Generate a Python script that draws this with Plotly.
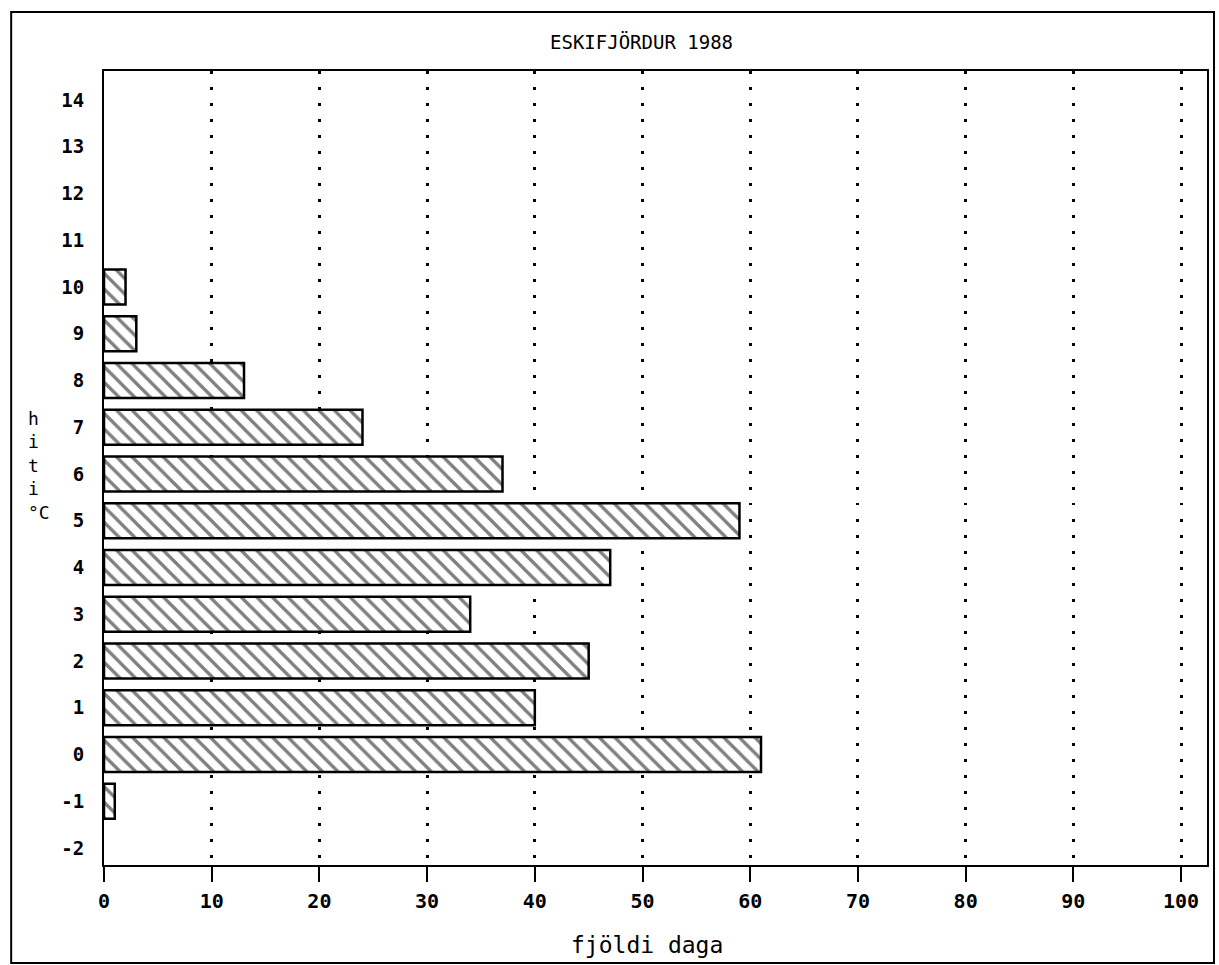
import plotly.graph_objects as go

temps = [-1, 0, 1, 2, 3, 4, 5, 6, 7, 8, 9, 10]
days = [1, 61, 40, 45, 34, 47, 59, 37, 24, 13, 3, 2]
y_ticks = list(range(-2, 15))
x_ticks = list(range(0, 101, 10))
y_title_letters = ["h", "i", "t", "i", "°C"]

W, H = 1219, 965
L, R, T, B = 104, 10, 71, 100
pw = W - L - R
ph = H - T - B

def px_x(p):
    return (p - L) / pw

def px_y(p):
    return (H - B - p) / ph

MONO = "DejaVu Sans Mono"

fig = go.Figure()
fig.add_trace(go.Bar(
    x=days, y=temps, orientation="h", width=0.75,
    marker=dict(color="white", line=dict(color="black", width=2.5),
                pattern=dict(shape="\\", fgcolor="black", bgcolor="white",
                             size=11, solidity=0.3, fillmode="overlay")),
    showlegend=False,
))

fig.update_layout(
    width=W, height=H,
    margin=dict(l=L, r=R, t=T, b=B),
    paper_bgcolor="white", plot_bgcolor="white",
    font=dict(family=MONO, color="black"),
    bargap=0.25,
)
fig.update_xaxes(
    range=[0, pw / 10.79], tickvals=x_ticks, ticktext=[str(v) for v in x_ticks],
    tickfont=dict(family=MONO, size=20, color="black", weight="bold"),
    ticks="outside", ticklen=15, tickwidth=2, tickcolor="black",
    ticklabelstandoff=2,
    showgrid=True, gridcolor="black", gridwidth=2.5, griddash="2.5px,13.5px",
    showline=True, linecolor="black", linewidth=2, mirror=True, zeroline=False,
)
fig.update_yaxes(
    range=[-2.364, 14.62], tickvals=y_ticks, ticktext=[str(v) for v in y_ticks],
    tickfont=dict(family=MONO, size=19, color="black", weight="bold"),
    ticks="", ticklabelstandoff=14,
    showgrid=False,
    showline=True, linecolor="black", linewidth=2, mirror=True, zeroline=False,
)

# outer frame
fig.add_shape(type="rect", xref="paper", yref="paper",
              x0=px_x(11), x1=px_x(1216), y0=px_y(963), y1=px_y(12),
              line=dict(color="black", width=2), fillcolor="rgba(0,0,0,0)", layer="below")

fig.add_annotation(text="ESKIFJÖRDUR 1988", xref="paper", yref="paper",
                   x=px_x(642), y=px_y(42), showarrow=False,
                   font=dict(family=MONO, size=19, color="black"),
                   xanchor="center", yanchor="middle")
fig.add_annotation(text="fjöldi daga", xref="paper", yref="paper",
                   x=px_x(648), y=px_y(945), showarrow=False,
                   font=dict(family=MONO, size=23, color="black"),
                   xanchor="center", yanchor="middle")
fig.add_annotation(text="<br>".join(y_title_letters), xref="paper", yref="paper",
                   x=px_x(26), y=px_y(465), showarrow=False, align="left",
                   font=dict(family=MONO, size=18, color="black"),
                   xanchor="left", yanchor="middle")

fig.write_html("out.html", config={"displayModeBar": False},
               post_script="document.body.style.margin='0px';")
